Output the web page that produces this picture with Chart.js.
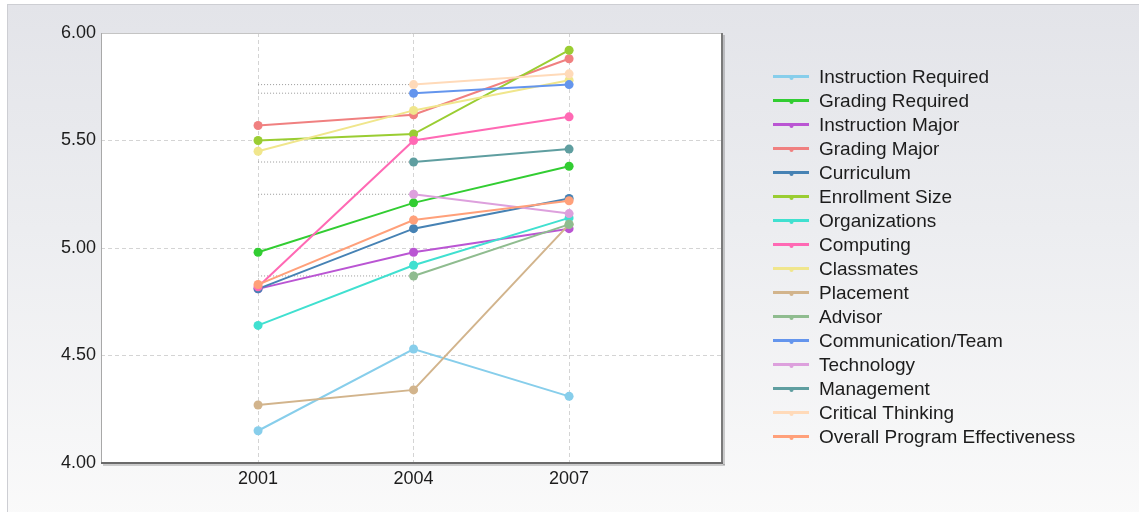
<!DOCTYPE html>
<html>
<head>
<meta charset="utf-8">
<title>Survey ratings by year</title>
<script src="https://cdn.jsdelivr.net/npm/chart.js@4/dist/chart.umd.min.js"></script>
<style>
  html, body { margin: 0; padding: 0; background: #ffffff; overflow: hidden; }
  #frame {
    position: absolute; left: 7px; top: 4px; width: 1200px; height: 560px;
    border: 1px solid #cdced3;
    background: linear-gradient(to bottom, #e3e4e9 0%, #ecedf0 40%, #fafafa 92%);
  }
  #wrap { position: absolute; left: 0; top: 0; width: 1139px; height: 512px; }
</style>
</head>
<body>
<div id="frame"></div>
<div id="wrap"><canvas id="c" width="1139" height="512"></canvas></div>
<script>
// Survey years and y-axis ticks
const years = [2001, 2004, 2007];
const yTicks = [4.0, 4.5, 5.0, 5.5, 6.0];

// Mean rating per survey year (null = item not asked that year)
const instructionRequired = [4.15, 4.53, 4.31];
const gradingRequired     = [4.98, 5.21, 5.38];
const instructionMajor    = [4.81, 4.98, 5.09];
const gradingMajor        = [5.57, 5.62, 5.88];
const curriculum          = [4.81, 5.09, 5.23];
const enrollmentSize      = [5.50, 5.53, 5.92];
const organizations       = [4.64, 4.92, 5.14];
const computing           = [4.82, 5.50, 5.61];
const classmates          = [5.45, 5.64, 5.78];
const placement           = [4.27, 4.34, 5.11];
const advisor             = [null, 4.87, 5.11];
const communicationTeam   = [null, 5.72, 5.76];
const technology          = [null, 5.25, 5.16];
const management          = [null, 5.40, 5.46];
const criticalThinking    = [null, 5.76, 5.81];
const overallProgram      = [4.83, 5.13, 5.22];

const seriesNames = [
  'Instruction Required', 'Grading Required', 'Instruction Major', 'Grading Major',
  'Curriculum', 'Enrollment Size', 'Organizations', 'Computing', 'Classmates',
  'Placement', 'Advisor', 'Communication/Team', 'Technology', 'Management',
  'Critical Thinking', 'Overall Program Effectiveness'
];
const seriesValues = [
  instructionRequired, gradingRequired, instructionMajor, gradingMajor,
  curriculum, enrollmentSize, organizations, computing, classmates,
  placement, advisor, communicationTeam, technology, management,
  criticalThinking, overallProgram
];
const seriesColors = [
  '#87CEEB', '#32CD32', '#BA55D3', '#F08080', '#4682B4', '#9ACD32', '#40E0D0', '#FF69B4',
  '#F0E68C', '#D2B48C', '#8FBC8F', '#6495ED', '#DDA0DD', '#5F9EA0', '#FFDAB9', '#FFA07A'
];

const FONT = 'Liberation Sans, Arial, sans-serif';
const n = seriesNames.length;

// Main series: later series are painted on top
const datasets = seriesValues.map((vals, i) => ({
  label: seriesNames[i],
  data: years.map((yr, k) => ({ x: yr, y: vals[k] })),
  borderColor: seriesColors[i],
  backgroundColor: seriesColors[i],
  pointBackgroundColor: seriesColors[i],
  pointBorderWidth: 0,
  pointRadius: 4.5,
  borderWidth: 2,
  tension: 0,
  spanGaps: false,
  order: n - i
}));

// Empty first-year points: a dotted placeholder at the next year's value
seriesValues.forEach((vals, i) => {
  if (vals[0] === null && vals[1] !== null) {
    datasets.push({
      label: '_gap_' + i,
      data: [{ x: years[0], y: vals[1] }, { x: years[1], y: vals[1] }],
      borderColor: '#9a9a9a',
      borderWidth: 1,
      borderDash: [1, 2],
      pointRadius: 0,
      order: 100
    });
  }
});

// Plot-area fill and frame
const plotFrame = {
  id: 'plotFrame',
  beforeDraw(chart) {
    const { ctx, chartArea: a } = chart;
    ctx.save();
    ctx.fillStyle = '#ffffff';
    ctx.fillRect(a.left, a.top, a.right - a.left, a.bottom - a.top);
    ctx.restore();
  },
  beforeDatasetsDraw(chart) {
    const { ctx, chartArea: a } = chart;
    ctx.save();
    ctx.lineWidth = 1;
    ctx.strokeStyle = '#c4c4c4';
    ctx.beginPath();
    ctx.moveTo(a.left, a.top + 0.5); ctx.lineTo(a.right, a.top + 0.5);
    ctx.stroke();
    ctx.strokeStyle = '#a8a8a8';
    ctx.beginPath();
    ctx.moveTo(a.left + 0.5, a.top); ctx.lineTo(a.left + 0.5, a.bottom);
    ctx.stroke();
    ctx.restore();
  },
  afterDatasetsDraw(chart) {
    const { ctx, chartArea: a } = chart;
    ctx.save();
    // soft shadow
    ctx.fillStyle = 'rgba(0,0,0,0.18)';
    ctx.fillRect(a.right + 1, a.top + 2, 2, a.bottom - a.top);
    ctx.fillRect(a.left + 2, a.bottom + 1, a.right - a.left + 1, 2);
    // right border and bottom axis line
    ctx.fillStyle = '#7a7a7a';
    ctx.fillRect(a.right - 1, a.top, 2, a.bottom - a.top + 1);
    ctx.fillStyle = '#6a6a6a';
    ctx.fillRect(a.left, a.bottom - 1, a.right - a.left + 1, 2);
    ctx.restore();
  }
};

// Legend: line sample with a small marker, then the series name
const sideLegend = {
  id: 'sideLegend',
  afterDraw(chart) {
    const ctx = chart.ctx;
    ctx.save();
    ctx.font = '19px ' + FONT;
    ctx.textBaseline = 'middle';
    ctx.textAlign = 'left';
    for (let i = 0; i < n; i++) {
      const y = 77 + 24 * i;
      ctx.strokeStyle = seriesColors[i];
      ctx.lineWidth = 3;
      ctx.beginPath();
      ctx.moveTo(773, y - 0.5); ctx.lineTo(809, y - 0.5);
      ctx.stroke();
      ctx.fillStyle = seriesColors[i];
      ctx.beginPath();
      ctx.arc(791.5, y + 1, 2, 0, Math.PI * 2);
      ctx.fill();
      ctx.fillStyle = '#1c1c1c';
      ctx.fillText(seriesNames[i], 819, y + 0.5);
    }
    ctx.restore();
  }
};

new Chart(document.getElementById('c'), {
  type: 'line',
  data: { datasets },
  plugins: [plotFrame, sideLegend],
  options: {
    responsive: false,
    animation: false,
    layout: { padding: { left: 0, top: 33, right: 417, bottom: 0 } },
    plugins: { legend: { display: false }, tooltip: { enabled: false } },
    scales: {
      x: {
        type: 'linear',
        min: 1997.97,
        max: 2009.95,
        afterBuildTicks: s => { s.ticks = years.map(v => ({ value: v })); },
        afterFit: s => { s.height = 49; },
        ticks: {
          font: { family: FONT, size: 18 },
          color: '#1c1c1c',
          padding: 5,
          callback: v => String(v)
        },
        grid: { color: '#d4d4d4', lineWidth: 1, drawTicks: false },
        border: { display: false, dash: [4, 3] }
      },
      y: {
        type: 'linear',
        min: 4,
        max: 6,
        afterBuildTicks: s => { s.ticks = yTicks.map(v => ({ value: v })); },
        afterFit: s => { s.width = 101; },
        ticks: {
          font: { family: FONT, size: 18 },
          color: '#1c1c1c',
          padding: 5,
          callback: v => Number(v).toFixed(2)
        },
        grid: {
          color: c => (c.tick && (c.tick.value === 4 || c.tick.value === 6)) ? 'rgba(0,0,0,0)' : '#d4d4d4',
          lineWidth: 1,
          drawTicks: false
        },
        border: { display: false, dash: [4, 3] }
      }
    }
  }
});
</script>
</body>
</html>
